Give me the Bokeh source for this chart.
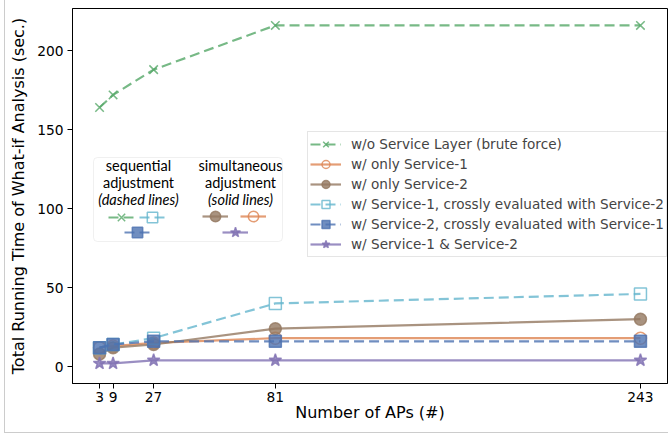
from bokeh.plotting import figure
from bokeh.models import Range1d, Legend, LegendItem, BoxAnnotation, Label, FixedTicker
from bokeh.embed import file_html
from bokeh.resources import INLINE

# ---- data ----
aps = [3, 9, 27, 81, 243]
brute = [164, 172, 188, 216, 216]
only_s1 = [12, 13, 15, 18, 18]
only_s2 = [8, 12, 14, 24, 30]
s1_cross = [12, 14, 18, 40, 46]
s2_cross = [12, 14, 16, 16, 16]
both = [2, 2, 4, 4, 4]
x_ticks = [3, 9, 27, 81, 243]
y_ticks = [0, 50, 100, 150, 200]
labels = [
    "w/o Service Layer (brute force)",
    "w/ only Service-1",
    "w/ only Service-2",
    "w/ Service-1, crossly evaluated with Service-2",
    "w/ Service-2, crossly evaluated with Service-1",
    "w/ Service-1 & Service-2",
]

GREEN = "#55a868"
ORANGE = "#dd8452"
BROWN = "#937860"
CYAN = "#64b5cd"
BLUE = "#4c72b0"
PURPLE = "#8172b3"
ALPHA = 0.8
FONT = "DejaVu Sans"

p = figure(width=668, height=437, x_range=Range1d(-9, 255), y_range=Range1d(-10.7, 226.7),
           output_backend="svg", toolbar_location=None,
           min_border_left=72, min_border_right=1, min_border_top=8, min_border_bottom=54)
p.border_fill_alpha = 0
p.styles = {"box-shadow": "inset 4px -4px 0 0 #ffffff, inset 5px -5px 0 0 #cccccc"}

p.xgrid.visible = False
p.ygrid.visible = False
p.outline_line_color = "black"
p.outline_line_alpha = 1
p.outline_line_width = 1

for ax in (p.xaxis[0], p.yaxis[0]):
    ax.axis_line_color = "black"
    ax.major_tick_line_color = "black"
    ax.major_tick_out = 5
    ax.major_tick_in = 0
    ax.minor_tick_line_color = None
    ax.major_label_text_font = FONT
    ax.major_label_text_font_size = "13.8px"
    ax.major_label_text_color = "black"
    ax.axis_label_text_font = FONT
    ax.axis_label_text_font_size = "16px"
    ax.axis_label_text_font_style = "normal"
    ax.axis_label_text_color = "black"
    ax.major_label_standoff = 4
p.xaxis.ticker = FixedTicker(ticks=x_ticks)
p.yaxis.ticker = FixedTicker(ticks=y_ticks)
p.xaxis.axis_label = "Number of APs (#)"
p.yaxis.axis_label = "Total Running Time of What-if Analysis (sec.)"
p.xaxis.major_label_standoff = 3
p.xaxis.axis_label_standoff = -2
p.yaxis.axis_label_standoff = 6

series = [
    (brute, GREEN, "dashed", "x", True),
    (only_s1, ORANGE, "solid", "circle", False),
    (only_s2, BROWN, "solid", "circle", True),
    (s1_cross, CYAN, "dashed", "square", False),
    (s2_cross, BLUE, "dashed", "square", True),
    (both, PURPLE, "solid", "star", True),
]

rends = []
for ys, col, dash, mk, filled in series:
    ln = p.line(aps, ys, line_color=col, line_width=2.2, line_alpha=ALPHA,
                line_dash=("10 5" if dash == "dashed" else "solid"))
    sc = p.scatter(aps, ys, marker=mk, size=(13 if mk == "star" else 12),
                   line_color=col, line_alpha=ALPHA, line_width=1.5,
                   fill_color=(col if filled else "white"),
                   fill_alpha=(ALPHA if filled else 0.0))
    rends.append([ln, sc])

legend = Legend(items=[LegendItem(label=l, renderers=r) for l, r in zip(labels, rends)],
                location=(235, 126), label_text_font=FONT, label_text_font_size="13.6px",
                label_height=20, glyph_height=20, glyph_width=31, spacing=0,
                label_standoff=10, label_width=310, padding=2, margin=0,
                border_line_color="#cccccc", border_line_width=1,
                background_fill_color="white", background_fill_alpha=0.9)
p.add_layout(legend, "center")

# secondary explanatory legend box
box = BoxAnnotation(left=21, right=210, bottom=142, top=226,
                    left_units="screen", right_units="screen",
                    bottom_units="screen", top_units="screen",
                    fill_color="white", fill_alpha=1, line_color="#cccccc",
                    line_width=1, border_radius=4, level="annotation")
p.add_layout(box)

TEXT_FONT = "Lato"
for cx, lines in ((66, ["sequential", "adjustment", "(dashed lines)"]),
                  (168, ["simultaneous", "adjustment", "(solid lines)"])):
    for i, t in enumerate(lines):
        p.add_layout(Label(x=cx, y=218 - 17 * i, x_units="screen", y_units="screen", text=t,
                           text_align="center", text_baseline="middle",
                           text_font=TEXT_FONT, text_font_size="14.5px",
                           text_font_style=("italic" if i == 2 else "normal"),
                           text_color="black"))


def mini_legend(rlist, loc, spacing):
    lg = Legend(items=[LegendItem(label="", renderers=r) for r in rlist],
                location=loc, orientation="horizontal",
                glyph_width=26, glyph_height=26, label_width=0, label_height=26,
                label_standoff=0, spacing=spacing, padding=0, margin=0,
                border_line_alpha=0, background_fill_alpha=0)
    p.add_layout(lg, "center")


mini_legend([rends[0], rends[3]], (36, 153), 5)
mini_legend([rends[4]], (52, 138), 0)
mini_legend([rends[2], rends[1]], (130, 154), 12)
mini_legend([rends[5]], (150, 138), 0)

open("out.html", "w").write(file_html(p, INLINE))
